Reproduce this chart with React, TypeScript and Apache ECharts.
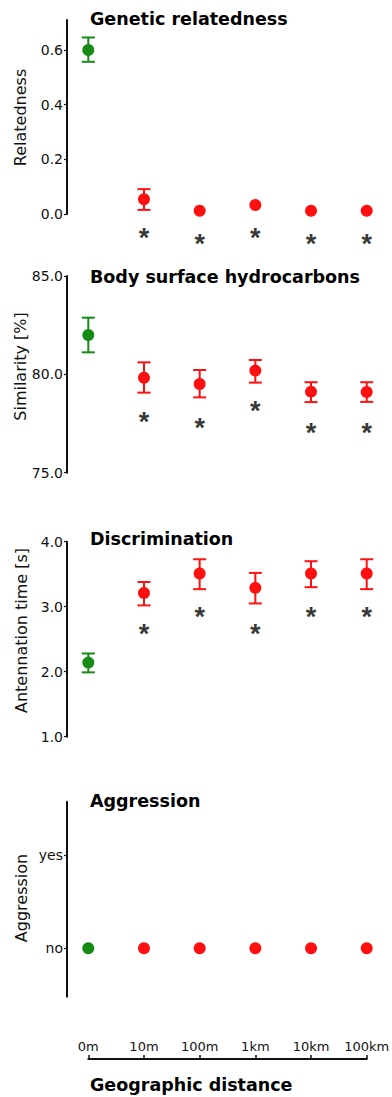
import React, { useEffect, useRef } from "react";
import * as echarts from "echarts";

const CATEGORIES = ["0m", "10m", "100m", "1km", "10km", "100km"];

const REL_MEAN = [0.6, 0.054, 0.012, 0.033, 0.012, 0.012];
const REL_LOW = [0.557, 0.015, null, null, null, null];
const REL_HIGH = [0.646, 0.091, null, null, null, null];
const REL_STAR = [null, -0.067, -0.089, -0.067, -0.087, -0.087];
const REL_TICKS = [0, 0.2, 0.4, 0.6];

const HC_MEAN = [82.0, 79.83, 79.51, 80.19, 79.12, 79.1];
const HC_LOW = [81.12, 79.07, 78.83, 79.58, 78.59, 78.6];
const HC_HIGH = [82.88, 80.61, 80.22, 80.73, 79.6, 79.6];
const HC_STAR = [null, 77.9, 77.6, 78.44, 77.3, 77.3];

const DIS_MEAN = [2.14, 3.21, 3.51, 3.29, 3.51, 3.51];
const DIS_LOW = [1.99, 3.02, 3.27, 3.05, 3.3, 3.27];
const DIS_HIGH = [2.28, 3.38, 3.73, 3.52, 3.7, 3.73];
const DIS_STAR = [null, 2.67, 2.93, 2.67, 2.93, 2.93];

const AGG_VALUE = [0, 0, 0, 0, 0, 0];
const AGG_TICKS = [0, 1];
const AGG_LABELS = ["no", "yes"];

const TITLES = ["Genetic relatedness", "Body surface hydrocarbons", "Discrimination", "Aggression"];
const Y_NAMES = ["Relatedness", "Similarity [%]", "Antennation time [s]", "Aggression"];
const X_NAME = "Geographic distance";

const GREEN = "#158a15";
const RED = "#ff1010";
const FONT = "DejaVu Sans";

export default function App() {
  const ref = useRef<HTMLDivElement>(null);
  useEffect(() => {
    if (!ref.current) return;
    const chart = echarts.init(ref.current, undefined, { renderer: "svg" });

    const gridLeft = 88.3;
    const gridWidth = 278.4;
    const grids = [
      { top: 20, height: 194 },
      { top: 276, height: 196.7 },
      { top: 541.7, height: 195 },
      { top: 801.7, height: 195 },
      { top: 1000, height: 59 },
    ].map((g) => ({ left: gridLeft, width: gridWidth, top: g.top, height: g.height, outerBoundsMode: "none" }));

    const xAxes = grids.map((_, i) => ({
      type: "category",
      gridIndex: i,
      data: CATEGORIES,
      boundaryGap: false,
      show: i === 4,
      axisLine: { show: true, lineStyle: { color: "#111", width: 2 } },
      axisTick: { show: true, inside: true, interval: 0, length: 4, lineStyle: { color: "#111", width: 1.5 } },
      axisLabel: { show: true, inside: true, interval: 0, margin: 6, color: "#111", fontSize: 13, fontFamily: FONT },
    }));

    const yBase = {
      type: "value",
      offset: 21.3,
      splitLine: { show: false },
      axisLine: { show: true, onZero: false, lineStyle: { color: "#111", width: 2 } },
      axisTick: { show: true, length: 3, lineStyle: { color: "#111", width: 1.2 } },
    };
    const labelStyle = { color: "#111", fontSize: 14, fontFamily: FONT, margin: 4 };
    const yAxes: any[] = [
      {
        ...yBase,
        gridIndex: 0,
        min: 0,
        max: 0.71,
        axisTick: { ...yBase.axisTick, customValues: REL_TICKS },
        axisLabel: { ...labelStyle, customValues: REL_TICKS, formatter: (v: number) => v.toFixed(1) },
      },
      {
        ...yBase,
        gridIndex: 1,
        min: 75,
        max: 85,
        interval: 5,
        axisLabel: { ...labelStyle, formatter: (v: number) => v.toFixed(1) },
      },
      {
        ...yBase,
        gridIndex: 2,
        min: 1,
        max: 4,
        interval: 1,
        axisLabel: { ...labelStyle, formatter: (v: number) => v.toFixed(1) },
      },
      {
        ...yBase,
        gridIndex: 3,
        min: -0.52,
        max: 1.57,
        axisTick: { ...yBase.axisTick, customValues: AGG_TICKS },
        axisLabel: {
          ...labelStyle,
          customValues: AGG_TICKS,
          formatter: (v: number) => AGG_LABELS[Math.round(v)] ?? "",
        },
      },
      { type: "value", gridIndex: 4, show: false },
    ];

    const colorOf = (i: number) => (i === 0 ? GREEN : RED);

    const errorSeries = (idx: number, low: (number | null)[], high: (number | null)[]) => ({
      type: "custom",
      xAxisIndex: idx,
      yAxisIndex: idx,
      clip: false,
      data: low
        .map((l, i) => (l == null || high[i] == null ? null : [i, l, high[i]]))
        .filter((d) => d !== null),
      encode: { x: 0, y: [1, 2] },
      renderItem: (params: any, api: any) => {
        const xi = api.value(0);
        const lo = api.coord([xi, api.value(1)]);
        const hi = api.coord([xi, api.value(2)]);
        const hw = 6.5;
        const stroke = colorOf(xi);
        const style = { stroke, lineWidth: 2 };
        return {
          type: "group",
          children: [
            { type: "line", shape: { x1: lo[0], y1: lo[1], x2: hi[0], y2: hi[1] }, style },
            { type: "line", shape: { x1: lo[0] - hw, y1: lo[1], x2: lo[0] + hw, y2: lo[1] }, style },
            { type: "line", shape: { x1: hi[0] - hw, y1: hi[1], x2: hi[0] + hw, y2: hi[1] }, style },
          ],
        };
      },
    });

    const pointSeries = (idx: number, values: number[]) => ({
      type: "scatter",
      xAxisIndex: idx,
      yAxisIndex: idx,
      symbolSize: 12,
      clip: false,
      z: 3,
      data: values,
      itemStyle: { color: (p: any) => colorOf(p.dataIndex), opacity: 1 },
    });

    const starSeries = (idx: number, values: (number | null)[]) => ({
      type: "scatter",
      xAxisIndex: idx,
      yAxisIndex: idx,
      symbolSize: 0,
      clip: false,
      data: values.map((v, i) => (v == null ? null : [i, v])).filter((d) => d !== null),
      label: {
        show: true,
        position: "inside",
        formatter: "*",
        color: "#000",
        fontSize: 27,
        fontWeight: "bold",
        fontFamily: "Liberation Sans",
        offset: [0, 6],
      },
    });

    const titleY = [19, 276.7, 539.3, 801];
    const yNamePos = [
      [20, 117.5],
      [20, 366.5],
      [21.7, 630.5],
      [21.7, 898],
    ];

    const graphic: any[] = [
      ...TITLES.map((t, i) => ({
        type: "text",
        x: 90,
        y: titleY[i],
        style: { text: t, fill: "#000", font: `bold 17.5px "${FONT}"`, align: "left", verticalAlign: "middle" },
      })),
      ...Y_NAMES.map((t, i) => ({
        type: "text",
        x: yNamePos[i][0],
        y: yNamePos[i][1],
        rotation: Math.PI / 2,
        style: { text: t, fill: "#111", font: `16px "${FONT}"`, align: "center", verticalAlign: "middle" },
      })),
      {
        type: "text",
        x: 90,
        y: 1085,
        style: { text: X_NAME, fill: "#000", font: `bold 17.5px "${FONT}"`, align: "left", verticalAlign: "middle" },
      },
    ];

    chart.setOption({
      animation: false,
      backgroundColor: "#fff",
      grid: grids,
      xAxis: xAxes,
      yAxis: yAxes,
      graphic,
      series: [
        errorSeries(0, REL_LOW, REL_HIGH),
        pointSeries(0, REL_MEAN),
        starSeries(0, REL_STAR),
        errorSeries(1, HC_LOW, HC_HIGH),
        pointSeries(1, HC_MEAN),
        starSeries(1, HC_STAR),
        errorSeries(2, DIS_LOW, DIS_HIGH),
        pointSeries(2, DIS_MEAN),
        starSeries(2, DIS_STAR),
        pointSeries(3, AGG_VALUE),
      ],
    });
    return () => chart.dispose();
  }, []);
  return <div ref={ref} style={{ position: "fixed", left: 0, top: 0, width: 392, height: 1097 }} />;
}
